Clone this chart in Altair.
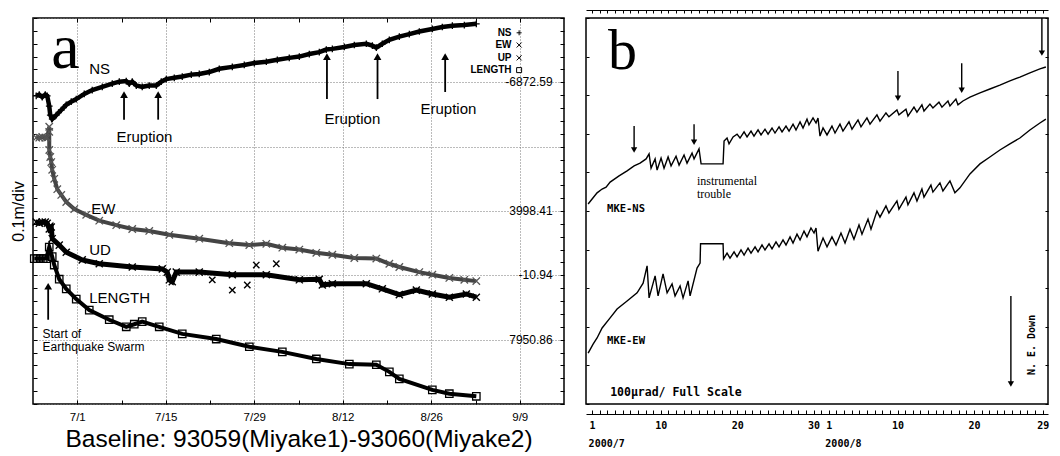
import json
import altair as alt
import pandas as pd

SANS = "Liberation Sans"
SERIF = "Liberation Serif"
MONO = "DejaVu Sans Mono"

# ---------------- Panel a : GPS baseline Miyake1-Miyake2 ----------------
# day: 7/1 = 1, 8/1 = 32, 9/1 = 63 ; val: position in 0.1 m divisions (0..6)
a_ns_day = [-5.49, -5.01, -4.54, -4.06, -3.75, -3.43, -3.27, -2.96, -2.32, -1.53,
            -0.74, 0.05, 0.84, 2.11, 3.37, 4.96, 6.54, 7.65, 8.75, 9.23,
            9.7, 10.34, 11.28, 12.39, 13.5, 14.29, 15.08, 16.35, 17.61, 19.04,
            20.3, 21.89, 23.47, 25.53, 27.42, 29.01, 30.91, 32.65, 34.54, 36.13,
            37.71, 39.29, 40.4, 41.35, 43.25, 44.83, 46.73, 47.68, 48.31, 49.26,
            50.37, 51.95, 53.53, 55.11, 57.17, 58.75, 60.34, 62.23, 64.13]
a_ns_val = [4.79, 4.81, 4.77, 4.81, 4.79, 4.63, 4.49, 4.43, 4.49, 4.57,
            4.65, 4.70, 4.74, 4.82, 4.88, 4.93, 4.98, 5.01, 5.02, 4.98,
            5.01, 4.95, 4.93, 4.95, 4.95, 5.01, 5.05, 5.07, 5.09, 5.12,
            5.13, 5.16, 5.21, 5.24, 5.27, 5.30, 5.32, 5.35, 5.38, 5.40,
            5.44, 5.47, 5.51, 5.52, 5.55, 5.58, 5.60, 5.57, 5.54, 5.60,
            5.66, 5.71, 5.75, 5.79, 5.83, 5.86, 5.88, 5.89, 5.91]

a_ew_day = [-5.49, -5.01, -4.54, -4.06, -3.75, -3.43, -3.43, -3.43, -3.27, -3.11,
            -2.96, -2.64, -2.16, -1.53, -0.74, 0.53, 2.42, 4.48, 7.17, 9.7,
            12.39, 15.56, 20.3, 25.05, 28.22, 30.91, 33.44, 36.13, 38.82, 41.35,
            44.83, 48.31, 50.37, 51.95, 55.11, 57.17, 59.86, 62.23, 64.13]
a_ew_val = [4.14, 4.14, 4.15, 4.14, 4.14, 4.31, 4.23, 3.95, 3.84, 3.76,
            3.64, 3.50, 3.34, 3.25, 3.14, 3.03, 2.94, 2.85, 2.78, 2.72,
            2.69, 2.63, 2.57, 2.50, 2.47, 2.49, 2.43, 2.40, 2.35, 2.32,
            2.27, 2.26, 2.18, 2.13, 2.05, 2.01, 1.96, 1.93, 1.91]

a_ud_day = [-5.49, -5.01, -4.54, -4.06, -3.75, -3.43, -3.11, -2.96, -1.85, -0.74,
            1.79, 4.48, 9.7, 14.45, 15.24, 15.56, 16.03, 16.66, 20.3, 25.53,
            30.91, 36.13, 39.29, 39.77, 41.35, 46.73, 49.26, 51.95, 54.64, 57.17,
            59.86, 62.55, 64.13]
a_ud_val = [2.83, 2.81, 2.83, 2.83, 2.81, 2.72, 2.75, 2.57, 2.47, 2.36,
            2.24, 2.18, 2.13, 2.10, 2.05, 1.93, 1.90, 2.05, 2.05, 2.01,
            2.01, 1.93, 1.94, 1.85, 1.87, 1.87, 1.79, 1.70, 1.77, 1.71,
            1.66, 1.71, 1.66]
a_ud_out_day = [22.36, 25.53, 27.9, 29.32, 32.49]
a_ud_out_val = [1.93, 1.77, 1.85, 2.16, 2.18]

a_len_day = [-5.8, -5.33, -4.85, -4.38, -3.91, -3.43, -2.96, -2.64, -1.85, -0.74,
             0.84, 2.9, 6.06, 8.75, 10.02, 11.28, 13.97, 17.61, 22.99, 28.22,
             33.44, 38.82, 44.04, 48.31, 50.37, 51.95, 57.17, 59.86, 64.13]
a_len_val = [2.26, 2.26, 2.26, 2.26, 2.26, 2.44, 2.29, 2.16, 1.94, 1.79,
             1.63, 1.46, 1.31, 1.20, 1.24, 1.28, 1.20, 1.09, 1.01, 0.89,
             0.81, 0.70, 0.62, 0.61, 0.50, 0.39, 0.22, 0.16, 0.12]

a_tick_days = [1, 8, 15, 22, 29, 36, 43, 50, 57, 64, 71]
a_tick_labels = ["7/1", "", "7/15", "", "7/29", "", "8/12", "", "8/26", "", "9/9"]
a_y_ticks = [0, 0.2, 0.4, 0.6, 0.8, 1, 1.2, 1.4, 1.6, 1.8, 2, 2.2, 2.4, 2.6, 2.8, 3,
             3.2, 3.4, 3.6, 3.8, 4, 4.2, 4.4, 4.6, 4.8, 5, 5.2, 5.4, 5.6, 5.8, 6]

a_arrow_day = [8.4, 13.8, 40.5, 48.5, 59.2, -3.6]
a_arrow_base = [4.42, 4.42, 4.74, 4.74, 4.85, 1.31]
a_arrow_head = [4.81, 4.81, 5.40, 5.40, 5.40, 1.83]

a_label_text = ["NS", "EW", "UD", "LENGTH", "Eruption", "Eruption", "Eruption"]
a_label_day = [2.9, 3.2, 2.9, 2.9, 7.2, 40.1, 55.3]
a_label_val = [5.21, 3.03, 2.40, 1.65, 4.15, 4.43, 4.59]

a_note_text = ["Start of", "Earthquake Swarm"]
a_note_day = [-4.5, -4.5]
a_note_val = [1.09, 0.89]

a_legend_text = ["NS", "EW", "UP", "LENGTH"]
a_legend_val = [5.77, 5.58, 5.38, 5.19]
a_legend_day = [69.7, 69.7, 69.7, 69.7]
a_legend_sym_day = [70.9, 70.9, 70.9, 70.9]

a_ref_text = ["-6872.59", "3998.41", "-10.94", "7950.86"]
a_ref_val = [5, 3, 2, 1]
a_ref_day = [76.2, 76.2, 76.2, 76.2]

# ---------------- Panel b : tiltmeter MKE ----------------
# day: 7/1 = 1, 8/1 = 32 ; val: tilt in microradian (100 urad full scale)
b_ns_day = [0.48, 1.0, 1.65, 2.31, 2.83, 3.36, 4.53, 5.58, 6.5, 7.28,
            8.07, 8.46, 8.72, 9.25, 9.51, 10.03, 10.42, 10.95, 11.34, 11.99,
            12.39, 13.04, 13.43, 14.09, 14.35, 15.0, 15.27, 18.15, 18.28, 18.67,
            18.93, 19.46,
            19.98, 20.37, 20.9, 21.29, 21.81, 22.2, 22.73, 23.12, 23.64, 24.04,
            24.56, 24.95, 25.48, 25.87, 26.39, 26.79, 27.31, 27.7, 28.23, 28.62,
            29.14, 29.4, 29.93, 30.32, 30.58, 30.84,
            31.24, 31.76, 32.41, 32.81, 33.46, 33.85, 34.64, 35.03, 35.82, 36.21,
            36.99, 37.39, 38.3, 38.7, 39.48, 39.87, 40.92, 41.18, 42.1, 42.36,
            43.15, 43.54, 44.19, 44.46, 45.24, 45.63, 46.42, 46.81, 47.6, 47.86,
            48.64, 48.91, 49.56, 50.48, 51.79, 53.09, 54.4, 55.71, 57.02, 58.33,
            59.64, 60.42]
b_ns_val = [51.8, 53.1, 54.7, 55.7, 56.2, 57.5, 59.1, 60.4, 61.7, 62.4,
            63.5, 64.8, 61.1, 63.5, 60.6, 63.7, 61.1, 64.0, 61.7, 64.2,
            61.9, 64.5, 62.4, 65.0, 63.5, 66.1, 62.2, 62.2, 68.1, 68.9,
            67.4, 69.2,
            69.9, 68.9, 70.5, 69.2, 70.7, 69.4, 71.0, 69.7, 71.2, 69.9,
            71.5, 70.2, 71.8, 70.5, 72.0, 70.7, 72.5, 71.0, 73.1, 71.5,
            73.8, 72.3, 74.1, 72.8, 74.1, 69.4,
            71.5, 69.7, 72.0, 70.2, 72.5, 70.7, 73.1, 71.2, 73.6, 71.8,
            74.1, 72.5, 74.9, 73.3, 75.4, 74.4, 76.2, 74.9, 76.4, 74.6,
            76.9, 75.6, 77.5, 75.9, 77.7, 76.7, 78.2, 76.9, 78.5, 77.2,
            79.0, 77.5, 78.5, 79.5, 80.6, 81.6, 82.6, 83.7, 84.7, 85.8,
            86.8, 87.3]

b_ew_day = [0.48, 1.13, 1.65, 2.31, 3.36, 4.27, 5.58, 6.89, 7.68, 8.2,
            8.46, 9.25, 9.64, 10.29, 10.82, 11.47, 11.86, 12.52, 12.91, 13.57,
            13.83, 14.74, 15.14, 15.2, 18.15, 18.21,
            18.67, 19.06, 19.59, 19.98, 20.5, 20.9, 21.42, 21.81, 22.34, 22.73,
            23.25, 23.64, 24.17, 24.56, 25.08, 25.48, 26.0, 26.39, 26.92, 27.31,
            27.83, 28.23, 28.75, 29.14, 29.66, 30.06, 30.32, 30.58,
            31.24, 31.76, 32.41, 32.94, 33.59, 34.12, 34.77, 35.29, 35.95, 36.34,
            37.13, 37.52, 38.3, 38.7, 39.48, 39.87, 40.92, 41.18, 42.1, 42.36,
            43.15, 43.54, 44.19, 44.46, 45.37, 45.63, 46.55, 46.94, 47.86, 48.51,
            49.17, 50.48, 51.79, 53.09, 54.4, 55.71, 57.02, 58.33, 59.64, 60.42]
b_ew_val = [13.2, 15.5, 17.1, 19.7, 22.3, 24.6, 26.7, 28.8, 31.3, 35.8,
            27.5, 33.2, 28.0, 33.7, 28.8, 31.1, 28.0, 30.6, 27.5, 31.9,
            28.0, 35.2, 36.5, 41.5, 41.5, 37.6,
            39.1, 37.8, 39.4, 38.1, 39.9, 38.6, 40.4, 39.1, 40.7, 39.4,
            41.2, 39.9, 41.5, 40.2, 42.0, 40.7, 42.5, 41.2, 43.3, 41.7,
            44.0, 42.5, 44.8, 43.3, 45.6, 44.3, 45.6, 39.6,
            43.0, 40.7, 43.3, 41.2, 44.3, 41.7, 45.3, 42.7, 46.4, 44.0,
            47.9, 45.3, 50.0, 48.4, 51.3, 49.5, 52.6, 50.5, 53.6, 51.6,
            54.7, 52.6, 55.7, 53.6, 56.7, 54.9, 57.3, 55.2, 57.8, 54.7,
            56.0, 59.6, 62.2, 64.0, 65.8, 67.4, 68.9, 71.0, 72.8, 73.8]

b_tick_days = list(range(1, 61))
b_label_days = [1, 10, 20, 30, 32, 41, 51, 60]
b_label_text = ["1", "10", "20", "30", "1", "10", "20", "29"]
b_month_days = [1, 32]
b_month_text = ["2000/7", "2000/8"]
b_y_ticks = [0, 10, 20, 30, 40, 50, 60, 70, 80, 90, 100]

b_arrow_day = [6.5, 14.35, 41.05, 49.4, 59.9, 55.84]
b_arrow_top = [72.0, 72.5, 86.3, 88.3, 100.0, 28.0]
b_arrow_head = [65.8, 67.8, 79.2, 81.3, 90.9, 5.2]

b_mono_text = ["MKE-NS", "MKE-EW"]
b_mono_day = [2.96, 2.96]
b_mono_val = [50.5, 16.3]
b_scale_text = ["100μrad/ Full Scale"]
b_scale_day = [3.36]
b_scale_val = [2.85]
b_serif_text = ["instrumental", "trouble"]
b_serif_day = [14.74, 14.74]
b_serif_val = [57.8, 54.4]
b_down_text = ["N. E. Down"]
b_down_day = [58.6]
b_down_val = [15.3]

PLUS = "M-1,0L1,0M0,-1L0,1"
CROSS = "M-1,-1L1,1M1,-1L-1,1"


def frame(day, val, **extra):
    d = {"day": day, "val": val, "i": list(range(len(day)))}
    d.update(extra)
    return pd.DataFrame(d)


XA = alt.Scale(domain=[-6, 78], nice=False, zero=False)
YA = alt.Scale(domain=[0, 6], nice=False, zero=False)
XB = alt.Scale(domain=[0.2, 60.7], nice=False, zero=False)
YB = alt.Scale(domain=[0, 100], nice=False, zero=False)

inward4 = {"expr": "-4"}
inward3 = {"expr": "-3"}

a_label_expr = f"{json.dumps(a_tick_labels)}[indexof({json.dumps(a_tick_days)}, datum.value)]"
ax_a_bottom = alt.Axis(
    orient="bottom", values=a_tick_days, labelExpr=a_label_expr, labelOverlap=False,
    labelFlush=False, labelFont=SANS, labelFontSize=11.5, labelColor="black",
    labelPadding=11, tickSize=inward4, tickColor="black", tickWidth=1, domain=False,
    grid=True, gridDash=[1, 2], gridColor="#777", gridWidth=1,
    gridOpacity={"condition": {"test": "(datum.value - 1) % 14 == 0", "value": 1}, "value": 0},
    title="Baseline: 93059(Miyake1)-93060(Miyake2)", titleFont=SANS, titleFontSize=24.5,
    titleFontWeight="normal", titleColor="black", titlePadding=5,
)
ax_a_top = alt.Axis(orient="top", values=a_tick_days, labels=False, tickSize=inward4,
                    tickColor="black", domain=False, grid=False, title=None)
ax_a_left = alt.Axis(
    orient="left", values=a_y_ticks, labels=False, tickSize=inward4, tickColor="black",
    domain=False, grid=True, gridDash=[1, 2], gridColor="#777", gridWidth=1,
    gridOpacity={"condition": {"test": "abs(datum.value - round(datum.value)) < 0.01", "value": 1}, "value": 0},
    title="0.1m/div", titleFont=SANS, titleFontSize=16, titleFontWeight="normal",
    titleColor="black", titlePadding=6,
)
ax_a_right = alt.Axis(orient="right", values=a_y_ticks, labels=False, tickSize=inward4,
                      tickColor="black", domain=False, grid=False, title=None)


def xa(axis=None):
    return alt.X("day:Q", scale=XA, axis=axis)


def ya(axis=None):
    return alt.Y("val:Q", scale=YA, axis=axis)


ns_df = frame(a_ns_day, a_ns_val)
ew_df = frame(a_ew_day, a_ew_val)
ud_df = frame(a_ud_day, a_ud_val)
ud_out_df = frame(a_ud_out_day, a_ud_out_val)
len_df = frame(a_len_day, a_len_val)

a_layers = [
    alt.Chart(ns_df).mark_line(color="black", strokeWidth=4.5).encode(
        x=xa(ax_a_bottom), y=ya(ax_a_left), order="i:Q"),
    alt.Chart(ew_df).mark_line(color="#444", strokeWidth=4).encode(
        x=xa(ax_a_top), y=ya(ax_a_right), order="i:Q"),
    alt.Chart(ud_df).mark_line(color="black", strokeWidth=5).encode(
        x=xa(), y=ya(), order="i:Q"),
    alt.Chart(len_df).mark_line(color="black", strokeWidth=4).encode(
        x=xa(), y=ya(), order="i:Q"),
    alt.Chart(ns_df).mark_point(shape=PLUS, size=45, color="black", strokeWidth=1.3, opacity=1).encode(
        x=xa(), y=ya()),
    alt.Chart(ew_df).mark_point(shape=CROSS, size=55, color="#555", strokeWidth=1.3, opacity=1).encode(
        x=xa(), y=ya()),
    alt.Chart(ud_df).mark_point(shape=CROSS, size=50, color="black", strokeWidth=1.4, opacity=1).encode(
        x=xa(), y=ya()),
    alt.Chart(ud_out_df).mark_point(shape=CROSS, size=40, color="black", strokeWidth=1.4, opacity=1).encode(
        x=xa(), y=ya()),
    alt.Chart(len_df).mark_point(shape="square", size=55, color="black", strokeWidth=1.3, opacity=1).encode(
        x=xa(), y=ya()),
]

a_arrows = pd.DataFrame({"day": a_arrow_day, "val": a_arrow_base, "head": a_arrow_head})
a_layers += [
    alt.Chart(a_arrows).mark_rule(color="black", strokeWidth=1.8).encode(
        x=xa(), y=ya(), y2="head:Q"),
    alt.Chart(a_arrows).mark_point(shape="triangle-up", filled=True, size=60, color="black", opacity=1).encode(
        x=xa(), y=alt.Y("head:Q", scale=YA, axis=None)),
]

a_lab = pd.DataFrame({"day": a_label_day, "val": a_label_val, "t": a_label_text})
a_note = pd.DataFrame({"day": a_note_day, "val": a_note_val, "t": a_note_text})
a_leg = pd.DataFrame({"day": a_legend_day, "val": a_legend_val, "t": a_legend_text,
                      "sd": a_legend_sym_day})
a_ref = pd.DataFrame({"day": a_ref_day, "val": a_ref_val, "t": a_ref_text})
a_big = pd.DataFrame({"day": [-3.1], "val": [5.22], "t": ["a"]})

a_layers += [
    alt.Chart(a_lab).mark_text(font=SANS, fontSize=15, align="left", baseline="middle", color="black").encode(
        x=xa(), y=ya(), text="t:N"),
    alt.Chart(a_note).mark_text(font=SANS, fontSize=12, align="left", baseline="middle", color="black").encode(
        x=xa(), y=ya(), text="t:N"),
    alt.Chart(a_leg).mark_text(font=SANS, fontSize=10, fontWeight="bold", align="right", baseline="middle",
                               color="black").encode(x=xa(), y=ya(), text="t:N"),
    alt.Chart(a_leg).mark_point(size=25, color="black", strokeWidth=1, opacity=1).encode(
        x=alt.X("sd:Q", scale=XA, axis=None), y=ya(),
        shape=alt.Shape("t:N", scale=alt.Scale(domain=a_legend_text, range=[PLUS, CROSS, CROSS, "square"]),
                        legend=None)),
    alt.Chart(a_ref).mark_text(font=SANS, fontSize=12, align="right", baseline="middle", color="black").encode(
        x=xa(), y=ya(), text="t:N"),
    alt.Chart(a_big).mark_text(font=SERIF, fontSize=64, align="left", baseline="alphabetic", color="black").encode(
        x=xa(), y=ya(), text="t:N"),
]

panel_a = alt.layer(*a_layers).resolve_axis(x="independent", y="independent").properties(width=531, height=386)

# ---------------- Panel b ----------------
b_label_expr = (f"indexof({json.dumps(b_label_days)}, datum.value) >= 0 ? "
                f"{json.dumps(b_label_text)}[indexof({json.dumps(b_label_days)}, datum.value)] : ''")
b_month_expr = f"{json.dumps(b_month_text)}[indexof({json.dumps(b_month_days)}, datum.value)]"

ax_b_bottom = alt.Axis(
    orient="bottom", offset=10, values=b_tick_days, labelExpr=b_label_expr, labelOverlap=False,
    labelFlush=False, labelFont=MONO, labelFontSize=10, labelFontWeight="bold", labelColor="black",
    labelPadding=10, tickSize=inward4, tickColor="black", tickWidth=1, domain=True,
    domainColor="black", domainWidth=1, grid=False, title=None,
)
ax_b_month = alt.Axis(
    orient="bottom", offset=34, values=b_month_days, labelExpr=b_month_expr, labelOverlap=False,
    labelFlush=False, labelFont=MONO, labelFontSize=10, labelFontWeight="bold", labelColor="black",
    labelAlign="left", labelOffset=-4, ticks=False, domain=False, grid=False, title=None, labelPadding=0,
)
ax_b_top = alt.Axis(orient="top", offset=8, values=b_tick_days, labels=False, tickSize=inward3,
                    tickColor="black", domain=True, domainColor="black", domainWidth=1,
                    grid=False, title=None)
ax_b_left = alt.Axis(orient="left", values=b_y_ticks, labels=False, tickSize=inward3,
                     tickColor="black", domain=False, grid=False, title=None)
ax_b_right = alt.Axis(orient="right", values=b_y_ticks, labels=False, tickSize=inward3,
                      tickColor="black", domain=False, grid=False, title=None)


def xb(axis=None):
    return alt.X("day:Q", scale=XB, axis=axis)


def yb(axis=None):
    return alt.Y("val:Q", scale=YB, axis=axis)


bns_df = frame(b_ns_day, b_ns_val)
bew_df = frame(b_ew_day, b_ew_val)
b_arrows = pd.DataFrame({"day": b_arrow_day, "val": b_arrow_top, "head": b_arrow_head})

b_layers = [
    alt.Chart(bns_df).mark_line(color="black", strokeWidth=1.4).encode(
        x=xb(ax_b_bottom), y=yb(ax_b_left), order="i:Q"),
    alt.Chart(bew_df).mark_line(color="black", strokeWidth=1.4).encode(
        x=xb(ax_b_top), y=yb(ax_b_right), order="i:Q"),
    alt.Chart(b_arrows).mark_rule(color="black", strokeWidth=1.4).encode(
        x=xb(ax_b_month), y=yb(), y2="head:Q"),
    alt.Chart(b_arrows).mark_point(shape="triangle-down", filled=True, size=40, color="black", opacity=1).encode(
        x=xb(), y=alt.Y("head:Q", scale=YB, axis=None)),
]

b_mono = pd.DataFrame({"day": b_mono_day, "val": b_mono_val, "t": b_mono_text})
b_scale = pd.DataFrame({"day": b_scale_day, "val": b_scale_val, "t": b_scale_text})
b_serif = pd.DataFrame({"day": b_serif_day, "val": b_serif_val, "t": b_serif_text})
b_down = pd.DataFrame({"day": b_down_day, "val": b_down_val, "t": b_down_text})
b_big = pd.DataFrame({"day": [3.09], "val": [86.8], "t": ["b"]})

b_layers += [
    alt.Chart(b_mono).mark_text(font=MONO, fontSize=10.5, fontWeight="bold", align="left", baseline="middle",
                                color="black").encode(x=xb(), y=yb(), text="t:N"),
    alt.Chart(b_scale).mark_text(font=MONO, fontSize=11.5, fontWeight="bold", align="left", baseline="middle",
                                 color="black").encode(x=xb(), y=yb(), text="t:N"),
    alt.Chart(b_serif).mark_text(font=SERIF, fontSize=12, align="left", baseline="middle",
                                 color="black").encode(x=xb(), y=yb(), text="t:N"),
    alt.Chart(b_down).mark_text(font=MONO, fontSize=10, fontWeight="bold", align="center", baseline="middle",
                                angle=270, color="black").encode(x=xb(), y=yb(), text="t:N"),
    alt.Chart(b_big).mark_text(font=SERIF, fontSize=58, align="left", baseline="alphabetic",
                               color="black").encode(x=xb(), y=yb(), text="t:N"),
]

panel_b = alt.layer(*b_layers).resolve_axis(x="independent", y="independent").properties(width=462, height=386)

chart = (
    alt.hconcat(panel_a, panel_b, spacing=22, bounds="flush")
    .properties(padding={"left": 1, "top": 0, "right": 0, "bottom": 0}, background="white")
    .configure_view(stroke="black", strokeWidth=1.5)
)

chart.save("out.html", embed_options={"renderer": "svg", "actions": False})
